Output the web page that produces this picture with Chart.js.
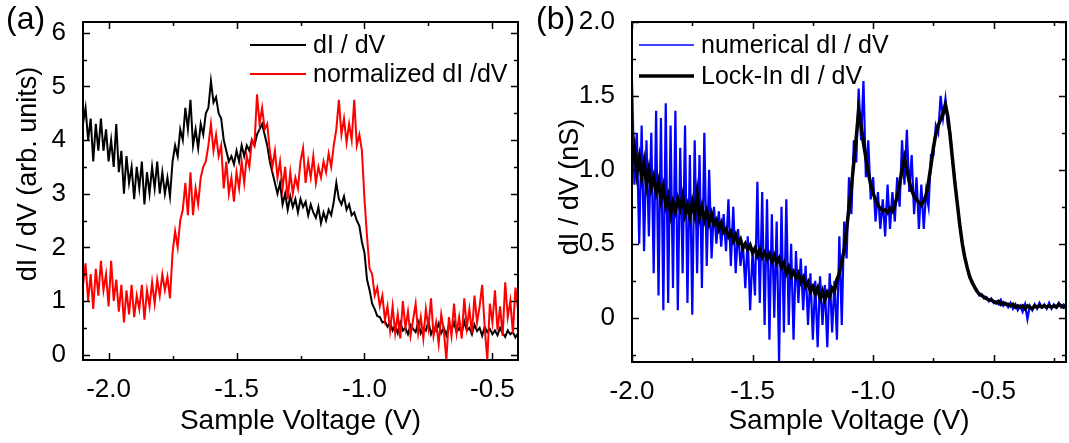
<!DOCTYPE html>
<html>
<head>
<meta charset="utf-8">
<script src="https://cdn.jsdelivr.net/npm/chart.js@4.4.0/dist/chart.umd.min.js"></script>
<style>
  html, body { margin: 0; padding: 0; background: #fff; }
  body { width: 1069px; height: 443px; position: relative; overflow: hidden; font-family: "Liberation Sans", Arial, sans-serif; }
  .panel { position: absolute; top: 0; height: 443px; }
  #panel-a { left: 0; width: 530px; }
  #panel-b { left: 540px; width: 529px; }
  canvas { display: block; }
  .tag { position: absolute; top: 3px; font-size: 32px; line-height: 30px; color: #000; }
</style>
</head>
<body>
<div class="panel" id="panel-a"><canvas id="chartA" width="530" height="443"></canvas></div>
<div class="panel" id="panel-b"><canvas id="chartB" width="529" height="443"></canvas></div>
<div class="tag" style="left:6px">(a)</div>
<div class="tag" style="left:536px">(b)</div>
<script>
// ---- panel (a): sampled every 10 mV from -2.10 V ----
const A_START = -2.10, A_STEP = 0.01;
const didvA = [
  4.3, 4.6, 4.0, 4.4, 3.6, 4.3, 3.8, 4.4, 3.8, 4.2,
  3.6, 4.0, 3.5, 4.3, 3.4, 3.8, 3.0, 3.7, 3.2, 3.5,
  2.9, 3.5, 3.1, 3.6, 2.8, 3.4, 3.0, 3.5, 3.1, 3.6,
  3.0, 3.4, 3.0, 3.3, 2.95, 3.6, 3.9, 3.7, 4.2, 4.0,
  4.6, 4.2, 4.75, 3.9, 4.2, 3.85, 4.3, 4.1, 4.5, 4.6,
  5.1, 4.7, 4.8, 4.5, 4.4, 4.0, 3.8, 3.6, 3.7, 3.55,
  3.8, 3.6, 3.9, 3.7, 3.9, 3.8, 4.0, 3.9, 4.1, 4.2,
  4.3, 4.1, 3.9, 3.6, 3.4, 3.2, 3.0, 3.2, 2.8, 3.0,
  2.7, 2.95, 2.75, 2.9, 2.65, 2.9, 2.75, 2.85, 2.6, 2.8,
  2.65, 2.55, 2.75, 2.45, 2.65, 2.5, 2.7, 2.6, 2.85, 3.2,
  2.9, 2.8, 2.95, 2.7, 2.8, 2.6, 2.65, 2.5, 2.4, 2.1,
  1.9, 1.4, 1.2, 0.95, 0.85, 0.72, 0.7, 0.6, 0.62, 0.52,
  0.6, 0.45, 0.55, 0.4, 0.6, 0.45, 0.5, 0.38, 0.55, 0.48,
  0.42, 0.6, 0.4, 0.5, 0.45, 0.62, 0.38, 0.5, 0.44, 0.58,
  0.4, 0.5, 0.36, 0.55, 0.45, 0.6, 0.42, 0.5, 0.4, 0.62,
  0.45, 0.5, 0.38, 0.56, 0.44, 0.5, 0.35, 0.52, 0.42, 0.48,
  0.38, 0.45, 0.36, 0.5, 0.4, 0.33, 0.45, 0.38, 0.42, 0.32,
  0.4
];
const normA = [
  1.3, 1.7, 1.0, 1.5, 0.85, 1.6, 1.1, 1.75, 1.2, 1.5,
  0.9, 1.75, 1.0, 1.4, 0.8, 1.3, 0.6, 1.2, 0.75, 1.3,
  0.7, 1.1, 0.85, 1.3, 0.65, 1.2, 0.9, 1.35, 0.95, 1.4,
  1.1, 1.5, 1.2, 1.45, 1.05, 1.9, 2.3, 2.0, 2.5, 2.7,
  3.2, 2.6, 3.4, 2.6, 3.1, 2.8, 3.3, 3.5, 3.6, 3.9,
  4.3, 3.8, 4.1, 3.7, 3.9, 3.1, 3.6, 3.0, 3.3, 2.85,
  3.4, 3.1, 3.6, 3.2, 3.7, 3.5, 4.0, 3.9, 4.85, 4.3,
  4.6, 4.2, 4.3, 3.8, 3.5, 3.8, 3.3, 3.6, 3.1, 3.5,
  2.9, 3.4, 3.0, 3.3, 3.1, 3.6, 3.85, 3.2, 3.6, 3.3,
  3.7, 3.2, 3.5, 3.3, 3.6, 3.4, 3.75, 3.5, 3.9, 4.2,
  4.75, 4.1, 4.4, 3.95, 4.3, 4.0, 4.75, 3.9, 4.1, 3.8,
  2.9, 2.2, 1.6, 1.5, 1.1, 1.25, 0.9, 1.1, 0.65, 0.9,
  0.45, 0.9, 0.4, 0.75, 0.3, 1.0, 0.5, 0.8, 0.35, 0.65,
  0.95, 0.4, 0.7, 0.3, 0.85, 0.5, 1.05, 0.35, 0.6, 0.2,
  0.75, 0.45, -0.1, 0.7, 0.35, 0.95, 0.4, 0.7, 0.3, 1.05,
  0.5, 0.85, 0.4, 1.1, 0.6, 0.9, 1.3, 0.5, -0.1, 0.95,
  0.6, 1.2, 0.45, 0.9, 0.35, 1.35, 0.7, 1.0, 0.4, 1.25,
  0.85
];
const A_X_TICKS = [-2.0, -1.5, -1.0, -0.5];
const A_X_LABELS = ['-2.0', '-1.5', '-1.0', '-0.5'];
const A_X_MINOR = [-1.75, -1.25, -0.75];
const A_Y_TICKS = [0, 1, 2, 3, 4, 5, 6];
const A_Y_LABELS = ['0', '1', '2', '3', '4', '5', '6'];
const A_Y_MINOR = [0.5, 1.5, 2.5, 3.5, 4.5, 5.5];

// ---- panel (b): sampled every 10 mV from -2.00 V ----
const B_START = -2.00, B_STEP = 0.01;
const numericalB = [
  1.6, 0.9, 1.25, 0.5, 1.3, 0.45, 1.2, 0.55, 1.25, 0.3,
  1.4, 0.15, 1.35, 0.05, 1.45, 0.1, 1.3, 0.2, 1.4, 0.05,
  1.15, 0.3, 1.3, 0.1, 1.1, 0.02, 1.2, 0.3, 1.1, 0.2,
  1.25, 0.35, 1.0, 0.4, 0.75, 0.5, 0.72, 0.48, 0.7, 0.45,
  0.8, 0.35, 0.75, 0.3, 0.6, 0.35, 0.5, 0.2, 0.55, 0.05,
  0.45, 0.15, 0.92, 0.1, 0.85, -0.05, 0.8, -0.15, 0.7, 0.0,
  0.65, -0.3, 0.75, -0.1, 0.8, -0.05, 0.5, -0.15, 0.45, 0.1,
  0.4, 0.05, 0.35, -0.05, 0.3, -0.15, 0.25, -0.2, 0.28, -0.05,
  0.22, -0.2, 0.3, -0.1, 0.25, -0.15, 0.55, -0.05, 0.65, 0.4,
  0.95, 0.7, 1.2, 1.05, 1.55, 1.2, 1.6, 0.95, 1.2, 0.8,
  0.95, 0.65, 0.85, 0.6, 0.8, 0.55, 0.9, 0.6, 0.85, 0.65,
  0.95, 0.75, 1.2, 0.9, 1.27, 0.85, 1.1, 0.7, 0.95, 0.6,
  0.9, 0.6, 0.85, 0.75, 1.1, 1.1, 1.3, 1.25, 1.5, 1.35,
  1.48, 1.3, 1.25, 1.05, 0.92, 0.76, 0.62, 0.5, 0.41, 0.34,
  0.27, 0.25, 0.2, 0.19, 0.15, 0.16, 0.13, 0.14, 0.11, 0.13,
  0.1, 0.11, 0.09, 0.12, 0.08, 0.1, 0.07, 0.1, 0.06, 0.09,
  0.05, 0.08, 0.04, 0.09, -0.01, 0.08, 0.05, 0.09, 0.06, 0.1,
  0.07, 0.09, 0.06, 0.1, 0.06, 0.09, 0.07, 0.1, 0.07, 0.09,
  0.08
];
const lockinB = [
  1.05, 1.15, 0.98, 1.08, 0.95, 1.05, 0.9, 1.0, 0.88, 0.95,
  0.85, 0.92, 0.8, 0.88, 0.76, 0.82, 0.7, 0.78, 0.72, 0.8,
  0.74, 0.82, 0.7, 0.76, 0.68, 0.78, 0.7, 0.84, 0.68, 0.75,
  0.66, 0.72, 0.64, 0.7, 0.63, 0.66, 0.6, 0.64, 0.58, 0.6,
  0.55, 0.58, 0.52, 0.56, 0.5, 0.53, 0.47, 0.5, 0.46, 0.49,
  0.44, 0.47, 0.42, 0.46, 0.41, 0.44, 0.4, 0.43, 0.38, 0.42,
  0.37, 0.4, 0.34, 0.37, 0.3, 0.34, 0.28, 0.31, 0.27, 0.3,
  0.24, 0.27, 0.21, 0.24, 0.18, 0.21, 0.16, 0.2, 0.13, 0.18,
  0.12, 0.17, 0.14, 0.2, 0.18, 0.26, 0.3, 0.38, 0.46, 0.6,
  0.74, 0.88, 1.05, 1.22, 1.4, 1.3, 1.18, 1.08, 0.98, 0.9,
  0.84, 0.8, 0.76, 0.74, 0.72, 0.73, 0.71, 0.74, 0.72, 0.76,
  0.82, 0.9, 1.0, 1.08, 1.0, 0.92, 0.86, 0.82, 0.8, 0.78,
  0.76, 0.79, 0.83, 0.92, 1.03, 1.15, 1.24, 1.3, 1.34, 1.38,
  1.44, 1.36, 1.22, 1.06, 0.9, 0.76, 0.62, 0.5, 0.41, 0.34,
  0.28, 0.24, 0.21, 0.18, 0.16, 0.15, 0.14, 0.13, 0.12, 0.12,
  0.11, 0.1, 0.11, 0.09, 0.1, 0.09, 0.09, 0.08, 0.09, 0.07,
  0.08, 0.07, 0.08, 0.06, 0.08, 0.07, 0.06, 0.08, 0.07, 0.08,
  0.07, 0.08, 0.07, 0.08, 0.07, 0.08, 0.07, 0.09, 0.08, 0.07,
  0.08
];
const B_X_TICKS = [-2.0, -1.5, -1.0, -0.5];
const B_X_LABELS = ['-2.0', '-1.5', '-1.0', '-0.5'];
const B_X_MINOR = [-1.75, -1.25, -0.75, -0.25];
const B_Y_TICKS = [0, 0.5, 1.0, 1.5, 2.0];
const B_Y_LABELS = ['0', '0.5', '1.0', '1.5', '2.0'];
const B_Y_MINOR = [-0.25, 0.25, 0.75, 1.25, 1.75];

const FONT = '"Liberation Sans", Arial, sans-serif';

function toPoints(start, step, values) {
  return values.map((v, i) => ({ x: +(start + i * step).toFixed(3), y: v }));
}

// box around the plot with inward ticks on all four sides, plus the rotated y title
const frameTicks = {
  id: 'frameTicks',
  afterDatasetsDraw(chart, args, opts) {
    const { ctx, chartArea: a, scales } = chart;
    ctx.save();
    ctx.strokeStyle = '#000';
    ctx.lineWidth = 1.5;
    ctx.beginPath();
    opts.xMajor.concat(opts.xMinor).forEach((v, i) => {
      const len = i < opts.xMajor.length ? 7 : 4;
      const px = Math.round(scales.x.getPixelForValue(v)) + 0.5;
      ctx.moveTo(px, a.bottom); ctx.lineTo(px, a.bottom - len);
      ctx.moveTo(px, a.top); ctx.lineTo(px, a.top + len);
    });
    opts.yMajor.concat(opts.yMinor).forEach((v, i) => {
      const len = i < opts.yMajor.length ? 7 : 4;
      const py = Math.round(scales.y.getPixelForValue(v)) + 0.5;
      ctx.moveTo(a.left, py); ctx.lineTo(a.left + len, py);
      ctx.moveTo(a.right, py); ctx.lineTo(a.right - len, py);
    });
    ctx.stroke();
    ctx.lineWidth = 2;
    ctx.strokeRect(a.left, a.top, a.right - a.left, a.bottom - a.top);

    ctx.fillStyle = '#000';
    ctx.font = '27px ' + FONT;
    ctx.textAlign = 'center';
    ctx.textBaseline = 'middle';
    ctx.translate(opts.yTitleX, opts.yTitleY);
    ctx.rotate(-Math.PI / 2);
    ctx.fillText(opts.yTitle, 0, 0);
    ctx.restore();
  }
};

// legend drawn inside the plot area
const insetLegend = {
  id: 'insetLegend',
  afterDraw(chart, args, opts) {
    const { ctx, chartArea: a } = chart;
    ctx.save();
    ctx.font = '25px ' + FONT;
    ctx.textBaseline = 'middle';
    ctx.fillStyle = '#000';
    chart.data.datasets.forEach((ds, i) => {
      const y = a.top + opts.top + i * opts.row;
      ctx.strokeStyle = ds.borderColor;
      ctx.lineWidth = opts.widths[i];
      ctx.beginPath();
      ctx.moveTo(a.left + opts.left, y);
      ctx.lineTo(a.left + opts.left + opts.len, y);
      ctx.stroke();
      ctx.fillText(ds.label, a.left + opts.textLeft, y + 1);
    });
    ctx.restore();
  }
};

function axes(o) {
  const tickFont = { family: FONT, size: 26, lineHeight: 1 };
  return {
    x: {
      type: 'linear', min: o.xMin, max: o.xMax,
      afterBuildTicks: s => { s.ticks = o.xTicks.map(v => ({ value: v })); },
      afterFit: s => { s.height = o.xHeight; },
      grid: { display: false }, border: { display: false },
      ticks: { font: tickFont, color: '#000', padding: 9, maxRotation: 0, autoSkip: false,
               callback: (v, i) => o.xLabels[i] },
      title: { display: true, text: 'Sample Voltage (V)', font: { family: FONT, size: 28, lineHeight: 1.2 },
               color: '#000', padding: { top: 0, bottom: 5 } }
    },
    y: {
      type: 'linear', min: o.yMin, max: o.yMax,
      afterBuildTicks: s => { s.ticks = o.yTicks.map(v => ({ value: v })); },
      afterFit: s => { s.width = o.yWidth; },
      grid: { display: false }, border: { display: false },
      ticks: { font: tickFont, color: '#000', padding: 9, autoSkip: false,
               callback: (v, i) => o.yLabels[i] }
    }
  };
}

Chart.defaults.font.family = FONT;

new Chart(document.getElementById('chartA'), {
  type: 'line',
  data: {
    datasets: [
      { label: 'dI / dV', data: toPoints(A_START, A_STEP, didvA), borderColor: '#000000',
        borderWidth: 2, pointRadius: 0, tension: 0, order: 1 },
      { label: 'normalized dI /dV', data: toPoints(A_START, A_STEP, normA), borderColor: '#ff0000',
        borderWidth: 2, pointRadius: 0, tension: 0, order: 0 }
    ]
  },
  options: {
    responsive: false, animation: false, devicePixelRatio: 1,
    layout: { padding: { top: 10, right: 12, bottom: 0, left: 0 } },
    plugins: {
      legend: { display: false }, tooltip: { enabled: false },
      frameTicks: { xMajor: A_X_TICKS, xMinor: A_X_MINOR, yMajor: A_Y_TICKS, yMinor: A_Y_MINOR,
                    yTitle: 'dI / dV (arb. units)', yTitleX: 29, yTitleY: 174 },
      insetLegend: { left: 167, len: 56, textLeft: 230, top: 23, row: 29, widths: [2, 2] }
    },
    scales: axes({ xMin: -2.1, xMax: -0.4, xTicks: A_X_TICKS, xLabels: A_X_LABELS, xHeight: 83,
                   yMin: -0.1, yMax: 6.2, yTicks: A_Y_TICKS, yLabels: A_Y_LABELS, yWidth: 83 })
  },
  plugins: [frameTicks, insetLegend]
});

new Chart(document.getElementById('chartB'), {
  type: 'line',
  data: {
    datasets: [
      { label: 'numerical dI / dV', data: toPoints(B_START, B_STEP, numericalB), borderColor: '#0000ff',
        borderWidth: 2.2, pointRadius: 0, tension: 0, order: 1 },
      { label: 'Lock-In dI / dV', data: toPoints(B_START, B_STEP, lockinB), borderColor: '#000000',
        borderWidth: 3.5, pointRadius: 0, tension: 0, order: 0 }
    ]
  },
  options: {
    responsive: false, animation: false, devicePixelRatio: 1,
    layout: { padding: { top: 12, right: 3, bottom: 0, left: 0 } },
    plugins: {
      legend: { display: false }, tooltip: { enabled: false },
      frameTicks: { xMajor: B_X_TICKS, xMinor: B_X_MINOR, yMajor: B_Y_TICKS, yMinor: B_Y_MINOR,
                    yTitle: 'dI / dV (nS)', yTitleX: 31, yTitleY: 187 },
      insetLegend: { left: 7, len: 55, textLeft: 69, top: 23, row: 31, widths: [1.5, 3.5] }
    },
    scales: axes({ xMin: -2.0, xMax: -0.2, xTicks: B_X_TICKS, xLabels: B_X_LABELS, xHeight: 81,
                   yMin: -0.3, yMax: 2.0, yTicks: B_Y_TICKS, yLabels: B_Y_LABELS, yWidth: 92 })
  },
  plugins: [frameTicks, insetLegend]
});
</script>
</body>
</html>
